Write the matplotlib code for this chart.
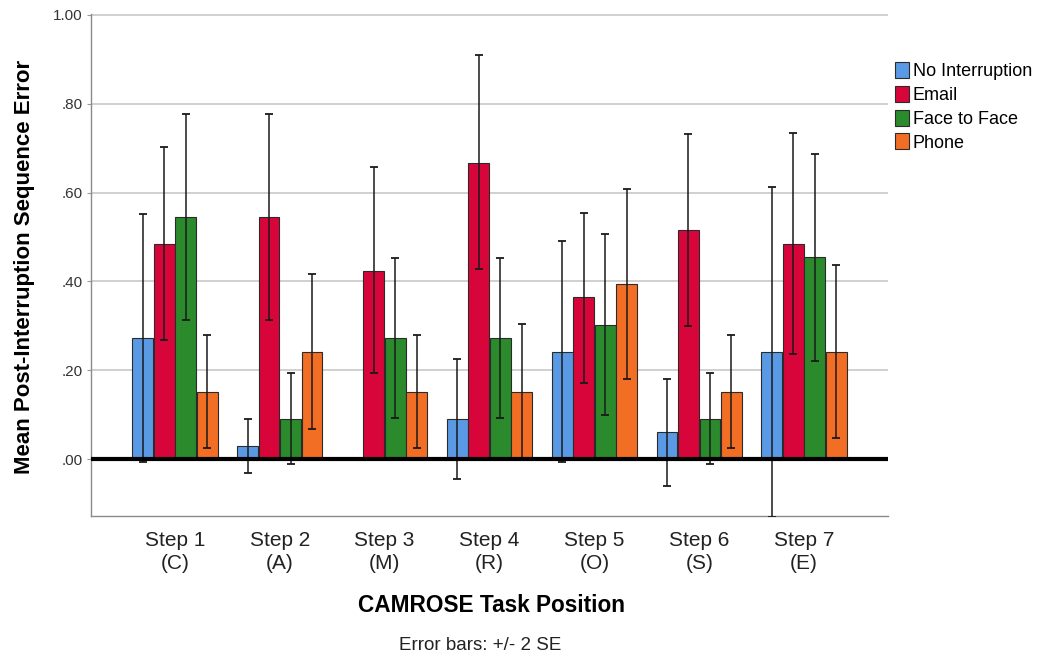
import numpy as np
import matplotlib
matplotlib.use("Agg")
import matplotlib.pyplot as plt
from matplotlib.patches import Patch

plt.rcParams['font.family'] = ['Liberation Sans', 'DejaVu Sans']

steps = ["Step 1\n(C)", "Step 2\n(A)", "Step 3\n(M)", "Step 4\n(R)",
         "Step 5\n(O)", "Step 6\n(S)", "Step 7\n(E)"]
series_names = ["No Interruption", "Email", "Face to Face", "Phone"]

# mean error per step
no_interruption = [0.273, 0.030, 0.000, 0.091, 0.242, 0.061, 0.242]
email           = [0.485, 0.545, 0.424, 0.667, 0.364, 0.515, 0.485]
face_to_face    = [0.545, 0.091, 0.273, 0.273, 0.303, 0.091, 0.455]
phone           = [0.152, 0.242, 0.152, 0.152, 0.394, 0.152, 0.242]

# error bar ends (+/- 2 SE)
no_interruption_lo = [-0.006, -0.031, 0.000, -0.044, -0.007, -0.061, -0.130]
no_interruption_hi = [0.552, 0.091, 0.000, 0.225, 0.491, 0.181, 0.613]
email_lo = [0.269, 0.314, 0.194, 0.428, 0.172, 0.300, 0.237]
email_hi = [0.702, 0.778, 0.657, 0.910, 0.555, 0.732, 0.734]
face_to_face_lo = [0.314, -0.011, 0.093, 0.092, 0.099, -0.011, 0.222]
face_to_face_hi = [0.778, 0.193, 0.453, 0.453, 0.507, 0.193, 0.687]
phone_lo = [0.025, 0.067, 0.025, -0.001, 0.181, 0.025, 0.048]
phone_hi = [0.279, 0.417, 0.279, 0.305, 0.607, 0.279, 0.438]

means = [no_interruption, email, face_to_face, phone]
lows = [no_interruption_lo, email_lo, face_to_face_lo, phone_lo]
highs = [no_interruption_hi, email_hi, face_to_face_hi, phone_hi]
colors = ["#5A9AE4", "#D8053A", "#2A8A2C", "#F26E24"]

W, H = 1037, 661
fig = plt.figure(figsize=(W / 100, H / 100), dpi=100)
ax = fig.add_axes([91 / W, 1 - 516 / H, (888 - 91) / W, (516 - 14) / H])

x = np.arange(len(steps))
bw = 0.205
for i, (m, lo, hi, c) in enumerate(zip(means, lows, highs, colors)):
    m = np.array(m)
    pos = x + (i - 1.5) * bw
    ax.bar(pos, m, width=bw * 0.97, color=c, edgecolor="#2b2b2b",
           linewidth=0.8, zorder=3)
    yerr = np.vstack([m - np.array(lo), np.array(hi) - m])
    ax.errorbar(pos, m, yerr=yerr, fmt="none", ecolor="#1a1a1a",
                elinewidth=1.1, capsize=3, capthick=1.3, zorder=4)

ax.axhline(0, color="black", lw=3, zorder=5)

ax.set_xlim(-0.8, 6.8)
ax.set_ylim(-0.128, 1.002)
ax.set_yticks([0, 0.2, 0.4, 0.6, 0.8, 1.0])
ax.set_yticklabels([".00", ".20", ".40", ".60", ".80", "1.00"])
ax.yaxis.grid(True, color="#c8c8c8", lw=1.2, zorder=0)
ax.set_axisbelow(True)
ax.set_xticks(x)
ax.set_xticklabels(steps, fontsize=15, color="#222222", linespacing=1.22)
ax.tick_params(axis="x", length=0, pad=11)
ax.tick_params(axis="y", length=3, color="#999999", labelsize=11,
               labelcolor="#333333", pad=3)
for s in ["top", "right"]:
    ax.spines[s].set_visible(False)
for s in ["left", "bottom"]:
    ax.spines[s].set_color("#8a8a8a")
    ax.spines[s].set_linewidth(1.0)

fig.text(25 / W, 1 - 267 / H, "Mean Post-Interruption Sequence Error",
         rotation=90, ha="center", va="center", fontsize=16,
         fontweight="bold")
fig.text(491 / W, 1 - 606 / H, "CAMROSE Task Position", ha="center",
         va="center", fontsize=16.3, fontweight="bold")
fig.text(480 / W, 1 - 646 / H, "Error bars: +/- 2 SE", ha="center",
         va="center", fontsize=13.5, color="#222222")

handles = [Patch(facecolor=c, edgecolor="#2b2b2b", linewidth=0.8)
           for c in colors]
fig.legend(handles, series_names, loc="upper left",
           bbox_to_anchor=(888 / W, 1 - 55 / H), frameon=False,
           fontsize=13, handlelength=0.78, handleheight=1.0,
           handletextpad=0.2, labelspacing=0.3, borderaxespad=0)

fig.savefig("out.png", dpi=100, facecolor="white")
